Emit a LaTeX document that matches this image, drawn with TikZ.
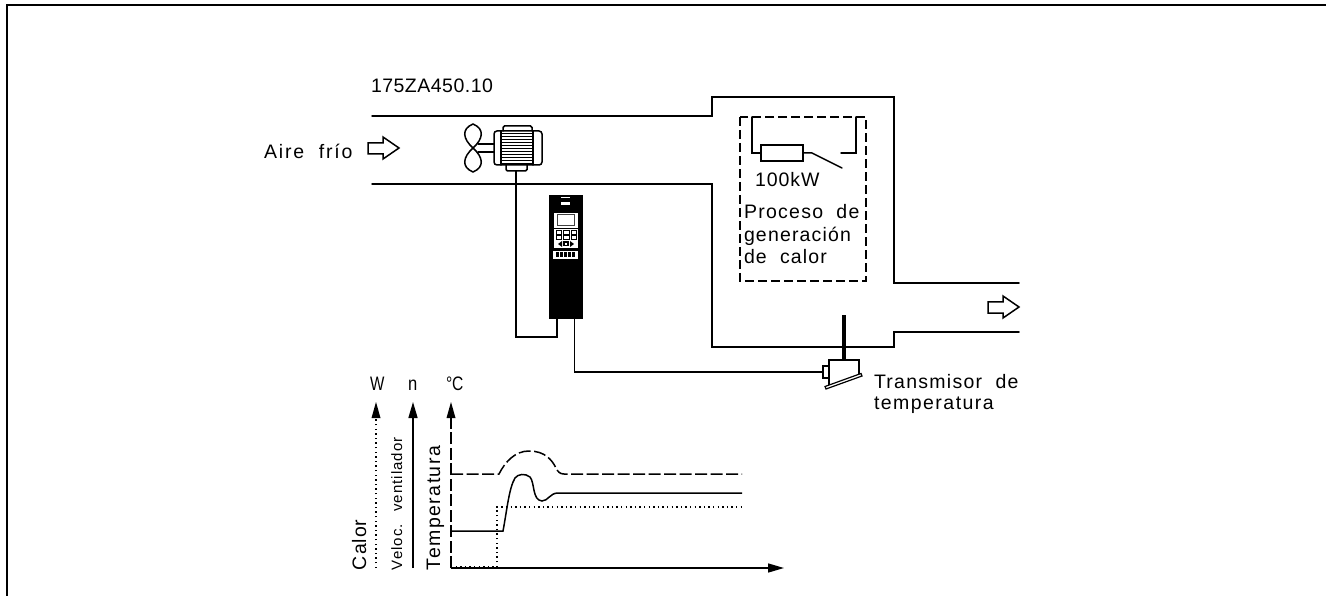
\documentclass[tikz,border=0pt]{standalone}
\usepackage{fontspec}
\setmainfont{Liberation Sans}
\newfontfamily\cadfont[WordSpace=2]{Liberation Sans}
\usetikzlibrary{arrows.meta}
\tikzset{
  ln/.style={line width=1.5pt,line cap=round,line join=miter},
  lbl/.style={anchor=base west,inner sep=0pt,outer sep=0pt,font=\cadfont\fontsize{19.5}{22}\selectfont\addfontfeature{LetterSpace=#1}},
  lbl/.default=5,
  vlbl/.style={lbl=#1,rotate=90},
  vlbl/.default=5,
  vsmall/.style={anchor=base west,inner sep=0pt,outer sep=0pt,rotate=90,font=\cadfont\fontsize{15}{18}\selectfont\addfontfeature{LetterSpace=7}},
  dsh/.style={line width=1.5pt,dash pattern=on 9pt off 4pt},
  cdsh/.style={line width=1.5pt,dash pattern=on 12pt off 3.5pt},
  dot/.style={line width=1.4pt,dash pattern=on 1.4pt off 3.2pt},
  tip/.style={-{Triangle[length=16pt,width=9pt]}},
  hollow/.style={line width=1.5pt,line join=miter}
}
\begin{document}
\begin{tikzpicture}[x=1pt,y=-1pt]
\useasboundingbox (0,0) rectangle (1326,596);
\fill[white] (0,0) rectangle (1326,596);
% frame
\draw[line width=2pt] (7,596) -- (7,5) -- (1326,5);
% duct
\draw[ln] (372,116) -- (712,116) -- (712,97) -- (894,97) -- (894,283) -- (1019,283);
\draw[ln] (372,184) -- (712,184) -- (712,347) -- (894,347) -- (894,332) -- (1019,332);
% flow arrows
\draw[hollow] (368,143) -- (383,143) -- (383,137) -- (399,148) -- (383,159) -- (383,154) -- (368,154) -- cycle;
\draw[hollow] (988,302) -- (1003,302) -- (1003,296) -- (1019,307) -- (1003,318) -- (1003,313) -- (988,313) -- cycle;
% fan
\draw[ln] (473,148) .. controls (463,139) and (461,129) .. (473,124) .. controls (485,129) and (483,139) .. (473,148)
  .. controls (463,157) and (461,167) .. (473,172) .. controls (485,167) and (483,157) .. (473,148);
\draw[ln] (478,144) -- (494,144) (478,152) -- (494,152);
% motor
\node[draw,line width=1.5pt,rounded corners=3pt,minimum width=48pt,minimum height=34pt,inner sep=0pt] (motor) at (518,148) {};
\draw[ln,rounded corners=1.5pt] (503,131) -- (503,126) -- (532,126) -- (532,131);
\draw[ln,rounded corners=1.5pt] (506,165) -- (506,171) -- (527,171) -- (527,165);
\draw[ln] (501,131) -- (501,165) (533,131) -- (533,165);
\foreach \y in {134,137,140,143,146,149,152,155,158,161,164}
  \draw[line width=1pt] (501,\y) -- (533,\y);
\coordinate (mterm) at (516,171);
% drive
\node[fill=black,minimum width=34pt,minimum height=124pt,inner sep=0pt] (drive) at (566,257) {};
\fill[white] (561,197.5) rectangle (570,198.5);
\fill[white] (561,202) rectangle (570,205.5);
\fill[white] (553.5,213) rectangle (578,228);
\fill[black!75] (557,214.5) rectangle (575,226);
\fill[white] (558,215.5) rectangle (574,225);
\fill[white] (554,229) rectangle (578,248);
\foreach \x/\y in {556/230.5,563.5/230.5,571/230.5,556/235.5,563.5/235.5,571/235.5}
  \draw[line width=1pt] (\x,\y) rectangle ++(5.5,4);
\fill[black] (558,244) -- (562,241) -- (562,247) -- cycle;
\fill[black] (574,244) -- (570,241) -- (570,247) -- cycle;
\fill[black] (563,241.5) rectangle (569,246.5);
\fill[white] (565,243) rectangle (567,245);
\fill[white] (553,251) rectangle (578,259);
\foreach \x in {556,560,564,568,572}
  \fill[black] (\x,252.5) rectangle ++(3,4.5);
% cables
\coordinate (dl) at (557,319);
\coordinate (dr) at (574.5,319);
\draw[line width=1.5pt] (mterm) |- (dl |- 0,337) -- (dl);
% transmitter
\draw[ln] (829,386) -- (829,360) -- (859,360) -- (859,375);
\node[draw,line width=1.5pt,minimum width=6pt,minimum height=12pt,inner sep=0pt] (tx) at (826,372) {};
\draw[line width=1.2pt,fill=white] (825,386.5) -- (861,373.5) -- (862,376) -- (826,389) -- cycle;
\fill[black] (842,315) rectangle (846,360);
\draw[line width=1.5pt] (dr) |- (tx.west);
% heater
\draw[dsh] (740,117) rectangle (866,281);
\node[draw,line width=1.5pt,minimum width=42pt,minimum height=16pt,inner sep=0pt] (res) at (782,153) {};
\draw[ln] (752,117) -- (752,153) -- (res.west);
\draw[ln] (res.east) -- (812,153) -- (842,168);
\draw[ln] (841,153) -- (856,153) -- (856,117);
% labels
\node[lbl=2.5] (l1) at (371,93) {175ZA450.10};
\node[lbl=9.5] (l2) at (264,159) {Aire frío};
\node[lbl] (l3) at (755,187) {100kW};
\node[lbl=6.5] (l4) at (744,219) {Proceso de};
\node[lbl=6] (l5) at (744,242) {generación};
\node[lbl=6] (l6) at (744,264) {de calor};
\node[lbl=6.5] (l7) at (874,388) {Transmisor de};
\node[lbl=7.5] (l8) at (874,409) {temperatura};
\node[lbl=0,xscale=.78] (l9) at (370,390) {W};
\node[lbl=0,xscale=.85] (l10) at (408,390) {n};
\node[lbl=0,xscale=.8] (l11) at (446,390) {°C};
\node[vlbl] (l12) at (366,570) {Calor};
\node[vsmall] (l13) at (402,570) {Veloc. ventilador};
\node[vlbl=7.5] (l14) at (440,570) {Temperatura};
% chart axes
\coordinate (o) at (451,568);
\draw[dot] (376,568) -- (376,418);
\fill (376,402) -- (380.5,418) -- (371.5,418) -- cycle;
\draw[line width=1.5pt,tip] (413,568) -- (413,402);
\draw[cdsh] (o) -- (451,418);
\fill (451,402) -- (455.5,418) -- (446.5,418) -- cycle;
\draw[line width=1.5pt,tip] (o) -- (784,568);
% curves
\draw[cdsh] (451,474) -- (499,474) .. controls (505,462) and (515,451) .. (529,451) .. controls (545,451) and (552,460) .. (556,468) .. controls (558,472) and (560,474) .. (564,474) -- (742,474);
\draw[line width=1.5pt] (451,531) -- (503,531) .. controls (507,510) and (509,488) .. (515,478) .. controls (518,474) and (525,473) .. (530,477) .. controls (535,483) and (532,500) .. (542,501) .. controls (548,501) and (550,493) .. (558,493) -- (742,493);
\draw[dot] (451,567) -- (497,567) -- (497,507) -- (742,507);
\end{tikzpicture}
\end{document}
